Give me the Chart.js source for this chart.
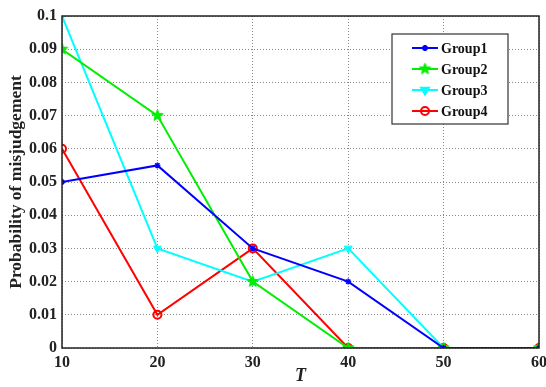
<!DOCTYPE html>
<html>
<head>
<meta charset="utf-8">
<script src="https://cdn.jsdelivr.net/npm/chart.js@4"></script>
<style>
  html, body { margin: 0; padding: 0; background: #fff; }
  #wrap { width: 546px; height: 387px; }
</style>
</head>
<body>
<div id="wrap"><canvas id="myChart"></canvas></div>
<script>
var T = [10, 20, 30, 40, 50, 60];
var group1 = [0.05, 0.055, 0.03, 0.02, 0, 0];
var group2 = [0.09, 0.07, 0.02, 0, 0, 0];
var group3 = [0.1, 0.03, 0.02, 0.03, 0, 0];
var group4 = [0.06, 0.01, 0.03, 0, 0, 0];
var yTicks = [0, 0.01, 0.02, 0.03, 0.04, 0.05, 0.06, 0.07, 0.08, 0.09, 0.1];

var font = "'Liberation Serif', 'Times New Roman', serif";

function pts(arr) {
  return arr.map(function (v, i) { return { x: T[i], y: v }; });
}

// filled star marker for Group2
function starImg(color) {
  var cv = document.createElement('canvas');
  cv.width = 13; cv.height = 13;
  var c = cv.getContext('2d');
  c.fillStyle = color;
  c.strokeStyle = color;
  c.beginPath();
  for (var i = 0; i < 10; i++) {
    var r = i % 2 ? 2.6 : 6;
    var a = -Math.PI / 2 + i * Math.PI / 5;
    var px = 6.5 + r * Math.cos(a), py = 6.5 + r * Math.sin(a);
    if (i == 0) c.moveTo(px, py); else c.lineTo(px, py);
  }
  c.closePath();
  c.fill();
  c.stroke();
  return cv;
}
var greenStar = starImg('#00ee00');

// frame around plot + legend box
var frame = {
  id: 'frame',
  afterDatasetsDraw: function (chart) {
    var a = chart.chartArea, c = chart.ctx;
    c.save();
    c.strokeStyle = '#222';
    c.lineWidth = 1.5;
    c.strokeRect(a.left, a.top, a.right - a.left, a.bottom - a.top);

    // legend
    var bx = 392, by = 34, bw = 116, bh = 90;
    c.fillStyle = '#fff';
    c.fillRect(bx, by, bw, bh);
    c.strokeStyle = '#333';
    c.lineWidth = 1.2;
    c.strokeRect(bx, by, bw, bh);
    chart.data.datasets.forEach(function (ds, i) {
      var y = 48 + i * 21;
      c.strokeStyle = ds.borderColor;
      c.fillStyle = ds.backgroundColor;
      c.lineWidth = 2;
      c.beginPath();
      c.moveTo(412, y);
      c.lineTo(438, y);
      c.stroke();
      Chart.helpers.drawPoint(c, {
        pointStyle: ds.pointStyle, radius: ds.pointRadius,
        rotation: ds.pointRotation || 0, borderWidth: ds.pointBorderWidth
      }, 425, y);
      c.fillStyle = '#111';
      c.font = 'bold 14px ' + font;
      c.textBaseline = 'middle';
      c.fillText(ds.label, 441, y + 1);
    });
    c.restore();
  }
};

var ctx = document.getElementById('myChart');
var myChart = new Chart(ctx, {
  type: 'line',
  data: {
    datasets: [
      { label: 'Group1', data: pts(group1), borderColor: '#0000ff', backgroundColor: '#0000ff',
        pointStyle: 'star', pointRadius: 3, pointBorderWidth: 1.5 },
      { label: 'Group2', data: pts(group2), borderColor: '#00ee00', backgroundColor: '#00ee00',
        pointStyle: greenStar, pointRadius: 5, pointBorderWidth: 1 },
      { label: 'Group3', data: pts(group3), borderColor: '#00ffff', backgroundColor: '#00ffff',
        pointStyle: 'triangle', pointRotation: 180, pointRadius: 4.5, pointBorderWidth: 1 },
      { label: 'Group4', data: pts(group4), borderColor: '#ff0000', backgroundColor: 'rgba(0,0,0,0)',
        pointStyle: 'circle', pointRadius: 4, pointBorderWidth: 2 }
    ]
  },
  options: {
    responsive: true,
    maintainAspectRatio: false,
    animation: false,
    layout: { padding: { top: 16, right: 7, left: 0, bottom: 0 } },
    elements: { line: { borderWidth: 2, tension: 0 } },
    plugins: { legend: { display: false }, tooltip: { enabled: false } },
    scales: {
      x: {
        type: 'linear', min: 10, max: 60,
        afterBuildTicks: function (s) { s.ticks = T.map(function (v) { return { value: v }; }); },
        afterFit: function (s) { s.height = 39; s.paddingLeft = 0; s.paddingRight = 0; },
        grid: { color: '#888', lineWidth: 1, drawTicks: false },
        border: { display: false, dash: [1, 2] },
        ticks: { color: '#222', padding: 5, maxRotation: 0, font: { family: font, size: 16, weight: 'bold' } },
        title: { display: true, text: 'T', color: '#222', padding: { top: -1, bottom: 0 },
                 font: { family: font, size: 18, weight: 'bold', style: 'italic' } }
      },
      y: {
        min: 0, max: 0.1,
        afterBuildTicks: function (s) { s.ticks = yTicks.map(function (v) { return { value: v }; }); },
        afterFit: function (s) { s.width = 62; s.paddingTop = 0; s.paddingBottom = 0; },
        grid: { color: '#888', lineWidth: 1, drawTicks: false },
        border: { display: false, dash: [1, 2] },
        ticks: { color: '#222', padding: 5, font: { family: font, size: 16, weight: 'bold' },
                 callback: function (v) { return String(+v.toFixed(2)); } },
        title: { display: true, text: 'Probability of misjudgement', color: '#222', padding: { top: 6, bottom: 0 },
                 font: { family: font, size: 17.5, weight: 'bold' } }
      }
    }
  },
  plugins: [frame]
});
</script>
</body>
</html>
